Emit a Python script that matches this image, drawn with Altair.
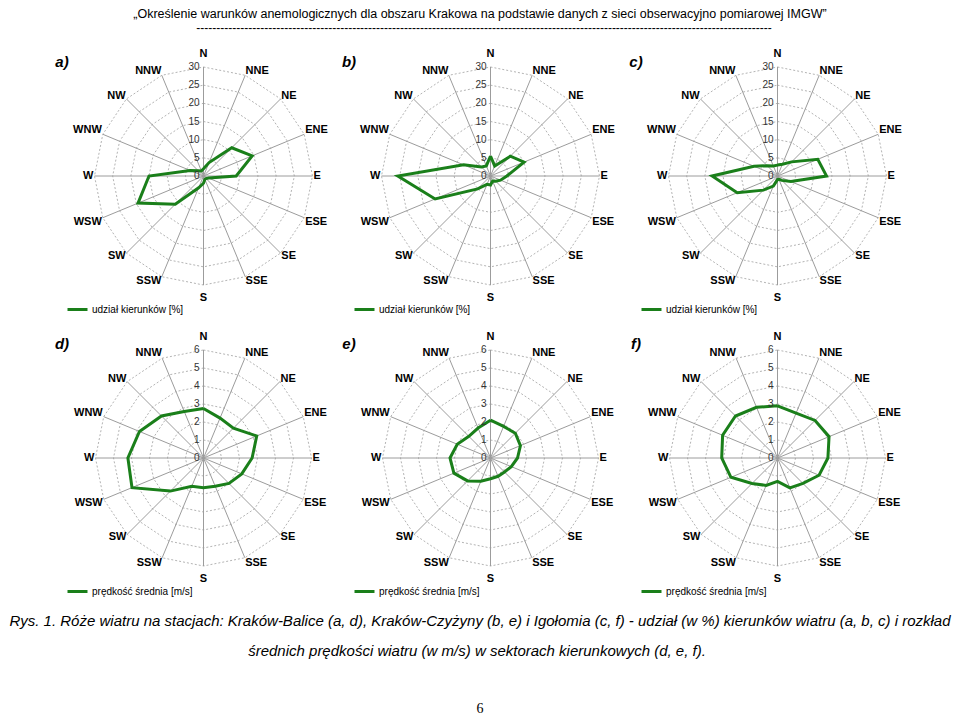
import altair as alt
import pandas as pd

# ---------------- data ----------------
DIRS = ["N", "NNE", "NE", "ENE", "E", "ESE", "SE", "SSE",
        "S", "SSW", "SW", "WSW", "W", "WNW", "NW", "NNW"]

# share of wind directions [%]
balice_pct = [2.0, 4.0, 11.0, 14.5, 9.0, 1.5, 1.0, 1.0, 2.0, 3.5, 11.0, 19.5, 15.0, 4.0, 2.0, 1.5]
czyzyny_pct = [5.5, 3.0, 7.7, 10.0, 4.5, 3.0, 2.0, 1.5, 2.5, 2.5, 5.0, 16.5, 25.5, 8.0, 3.5, 3.0]
igolomia_pct = [3.0, 3.5, 5.5, 12.0, 13.5, 4.0, 1.7, 1.0, 1.0, 3.0, 5.5, 12.0, 18.0, 7.0, 4.0, 3.0]

# mean wind speed [m/s]
balice_ms = [2.75, 2.4, 2.35, 3.2, 2.7, 2.3, 2.0, 1.7, 1.65, 1.7, 2.6, 4.3, 4.2, 3.85, 3.3, 2.8]
czyzyny_ms = [2.1, 1.9, 1.95, 1.8, 1.5, 1.25, 1.1, 1.1, 1.15, 1.4, 1.8, 2.2, 2.25, 2.0, 1.7, 1.8]
igolomia_ms = [2.9, 2.7, 2.95, 3.1, 2.8, 2.5, 2.0, 1.8, 1.3, 1.65, 2.0, 2.8, 3.1, 3.3, 3.3, 3.05]

pct_ticks = [0, 5, 10, 15, 20, 25, 30]
ms_ticks = [0, 1, 2, 3, 4, 5, 6]

LEG_PCT = "udział kierunków [%]"
LEG_MS = "prędkość średnia [m/s]"
TAGS = ["a)", "b)", "c)", "d)", "e)", "f)"]

HEADER = ("„Określenie warunków anemologicznych dla obszaru Krakowa na podstawie "
          "danych z sieci obserwacyjno pomiarowej IMGW”")
RULE = "-" * 144
CAPTION = [
    "Rys. 1. Róże wiatru na stacjach: Kraków-Balice (a, d), Kraków-Czyżyny (b, e) i Igołomia (c, f) "
    "- udział (w %) kierunków wiatru (a, b, c) i rozkład",
    "średnich prędkości wiatru (w m/s) w sektorach kierunkowych (d, e, f).",
]
PAGE = "6"

# ---------------- style ----------------
GREEN = "#1a7f1a"
SANS = "Liberation Sans, Arial, sans-serif"
PW, PH = 287, 282
LETTER_W = {"N": 7.9, "E": 7.3, "S": 7.3, "W": 10.4}


def panel(tag, values, ticks, radius_px, legend_label):
    top = ticks[-1]
    ppu = radius_px / top
    xs = alt.Scale(domain=[-PW / 2 / ppu, PW / 2 / ppu], nice=False, zero=False)
    ys = alt.Scale(domain=[-PH / 2 / ppu, PH / 2 / ppu], nice=False, zero=False)

    def X(f):
        return alt.X(f"{f}:Q", scale=xs, axis=None)

    def Y(f):
        return alt.Y(f"{f}:Q", scale=ys, axis=None)

    ring_df = pd.DataFrame([{"r": t, "i": i} for t in ticks[1:] for i in range(17)])
    rings = alt.Chart(ring_df).transform_calculate(
        x="datum.r*sin(datum.i*PI/8)", y="datum.r*cos(datum.i*PI/8)"
    ).mark_line(color="#b4b4b4", strokeWidth=1, strokeDash=[2, 2]).encode(
        X("x"), Y("y"), detail="r:N", order="i:Q"
    )

    spoke_df = pd.DataFrame({"i": list(range(16)), "r": [top] * 16})
    spokes = alt.Chart(spoke_df).transform_calculate(
        x0="0", x="datum.r*sin(datum.i*PI/8)", y="datum.r*cos(datum.i*PI/8)"
    ).mark_rule(color="#9c9c9c", strokeWidth=1).encode(
        X("x0"), Y("x0"), x2=alt.X2("x"), y2=alt.Y2("y")
    )

    poly_df = pd.DataFrame({"i": list(range(17)), "v": values + values[:1],
                            "s": [legend_label] * 17})
    poly = alt.Chart(poly_df).transform_calculate(
        x="datum.v*sin(datum.i*PI/8)", y="datum.v*cos(datum.i*PI/8)"
    ).mark_line(strokeWidth=3, strokeJoin="miter").encode(
        X("x"), Y("y"), order="i:Q",
        color=alt.Color("s:N", scale=alt.Scale(range=[GREEN]),
                        legend=alt.Legend(title=None, orient="none", legendX=6, legendY=263,
                                          symbolType="stroke", symbolSize=400,
                                          symbolStrokeWidth=3, labelFontSize=10,
                                          labelFont=SANS, labelColor="#000",
                                          labelOffset=3, padding=0)),
    )

    tick_df = pd.DataFrame({"t": ticks, "lab": [str(t) for t in ticks]})
    tick_txt = alt.Chart(tick_df).transform_calculate(x0="0").mark_text(
        align="right", baseline="middle", dx=-4, fontSize=10, font=SANS, color="#333333"
    ).encode(X("x0"), Y("t"), text="lab:N")

    dir_df = pd.DataFrame({"d": DIRS, "i": list(range(16)),
                           "hw": [sum(LETTER_W[c] for c in d) / 2 for d in DIRS]})
    dir_txt = alt.Chart(dir_df).transform_calculate(
        s="sin(datum.i*PI/8)", c="cos(datum.i*PI/8)"
    ).transform_calculate(
        sx="abs(datum.s)<0.001 ? 0 : (datum.s>0 ? 1 : -1)",
        sy="abs(datum.c)<0.001 ? 0 : (datum.c>0 ? 1 : -1)",
    ).transform_calculate(
        lx=f"{1.01 * top}*datum.s + datum.sx*datum.hw/{ppu}",
        ly=f"{0.954 * top}*datum.c + (6*datum.sy + 12*datum.sy*pow(datum.c,16))/{ppu}",
    ).mark_text(fontSize=11, fontWeight="bold", font=SANS, color="#000",
                baseline="middle", align="center").encode(X("lx"), Y("ly"), text="d:N")

    tag_txt = alt.Chart(pd.DataFrame({"t": [tag]})).mark_text(
        align="center", baseline="middle", fontSize=15, fontWeight="bold",
        fontStyle="italic", font=SANS, color="#000"
    ).encode(x=alt.value(2), y=alt.value(27), text="t:N")

    return alt.layer(rings, spokes, poly, tick_txt, dir_txt, tag_txt).properties(
        width=PW, height=PH)


def spacer():
    return alt.Chart(pd.DataFrame({"t": [""]})).mark_text(opacity=0).encode(
        text="t:N").properties(width=52, height=PH)


row1 = alt.hconcat(
    spacer(),
    panel(TAGS[0], balice_pct, pct_ticks, 109, LEG_PCT),
    panel(TAGS[1], czyzyny_pct, pct_ticks, 109, LEG_PCT),
    panel(TAGS[2], igolomia_pct, pct_ticks, 109, LEG_PCT),
    spacing=0, bounds="flush",
).resolve_scale(x="independent", y="independent", color="independent").resolve_legend(
    color="independent")

row2 = alt.hconcat(
    spacer(),
    panel(TAGS[3], balice_ms, ms_ticks, 108, LEG_MS),
    panel(TAGS[4], czyzyny_ms, ms_ticks, 108, LEG_MS),
    panel(TAGS[5], igolomia_ms, ms_ticks, 108, LEG_MS),
    spacing=0, bounds="flush",
).resolve_scale(x="independent", y="independent", color="independent").resolve_legend(
    color="independent")

h1 = alt.Chart(pd.DataFrame({"t": [HEADER]})).mark_text(
    fontSize=12.5, font=SANS, baseline="middle", color="#000").encode(
    x=alt.value(472), y=alt.value(6), text="t:N")
h2 = alt.Chart(pd.DataFrame({"t": [RULE]})).mark_text(
    fontSize=12, font=SANS, baseline="middle", color="#000").encode(
    x=alt.value(476), y=alt.value(19.5), text="t:N")
header = alt.layer(h1, h2).properties(width=944, height=27)

c1 = alt.Chart(pd.DataFrame({"t": [CAPTION[0]]})).mark_text(
    fontSize=15, font=SANS, fontStyle="italic", baseline="middle", color="#000").encode(
    x=alt.value(472), y=alt.value(22), text="t:N")
c2 = alt.Chart(pd.DataFrame({"t": [CAPTION[1]]})).mark_text(
    fontSize=15, font=SANS, fontStyle="italic", baseline="middle", color="#000").encode(
    x=alt.value(469), y=alt.value(52), text="t:N")
c3 = alt.Chart(pd.DataFrame({"t": [PAGE]})).mark_text(
    fontSize=14, font="Liberation Serif, Times New Roman, serif", baseline="middle",
    color="#000").encode(x=alt.value(472), y=alt.value(110), text="t:N")
caption = alt.layer(c1, c2, c3).properties(width=944, height=117)

chart = alt.vconcat(header, row1, row2, caption, spacing=0).resolve_scale(
    x="independent", y="independent", color="independent").resolve_legend(
    color="independent").properties(padding=0).configure_view(
    stroke="transparent", strokeWidth=0)

chart.save("out.html", embed_options={"renderer": "svg", "actions": False})
